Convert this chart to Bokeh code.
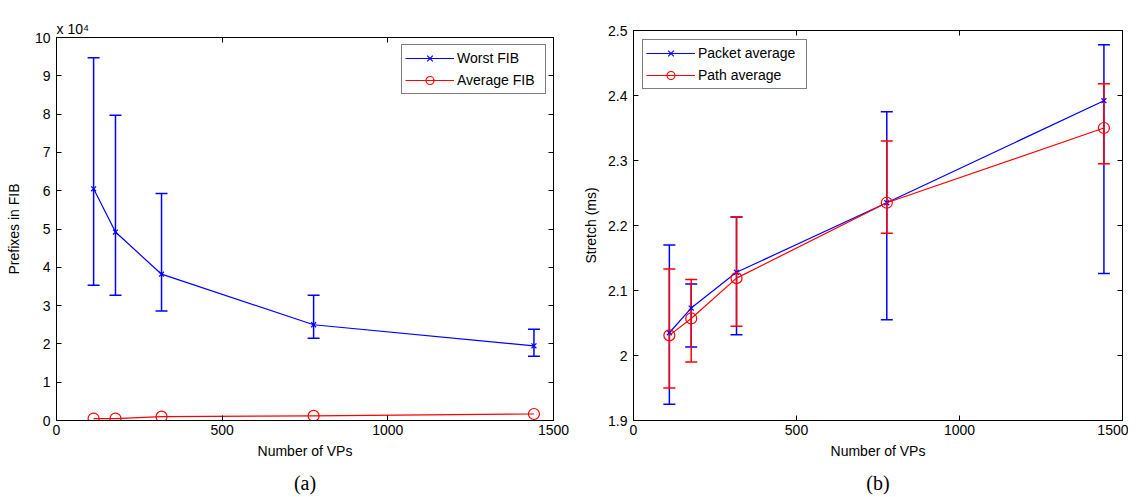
from bokeh.plotting import figure
from bokeh.layouts import row
from bokeh.models import (ColumnDataSource, Whisker, TeeHead, Legend, LegendItem,
                          Title, LinearAxis, FixedTicker, Range1d)
from bokeh.embed import file_html
from bokeh.resources import INLINE

# ---------------- data (a) ----------------
vps_a = [112, 178, 317, 776, 1441]
worst_fib = [6.05, 4.92, 3.82, 2.50, 1.95]
worst_fib_hi = [9.47, 7.97, 5.93, 3.27, 2.38]
worst_fib_lo = [3.53, 3.27, 2.86, 2.15, 1.68]
avg_fib = [0.05, 0.05, 0.10, 0.12, 0.17]

# ---------------- data (b) ----------------
vps_b = [110, 177, 316, 777, 1443]
packet_avg = [2.035, 2.073, 2.128, 2.235, 2.392]
packet_hi = [2.170, 2.110, 2.213, 2.375, 2.478]
packet_lo = [1.925, 2.013, 2.032, 2.055, 2.126]
path_avg = [2.031, 2.057, 2.119, 2.235, 2.350]
path_hi = [2.133, 2.117, 2.213, 2.330, 2.418]
path_lo = [1.950, 1.990, 2.045, 2.188, 2.295]

x_ticks = [0, 500, 1000, 1500]
y_ticks_a = [0, 1, 2, 3, 4, 5, 6, 7, 8, 9, 10]
y_ticks_b = [1.9, 2.0, 2.1, 2.2, 2.3, 2.4, 2.5]

BLUE = "#0000ff"
RED = "#ff0000"
FONT = "Liberation Sans"
FS = "14px"


def style(p, yticks, xlabel, ylabel, ystand, caption):
    p.frame_align = False
    p.xgrid.visible = False
    p.ygrid.visible = False
    p.outline_line_color = "black"
    p.outline_line_width = 1
    p.background_fill_color = "white"
    p.border_fill_color = "white"
    for ax in p.xaxis:
        ax.ticker = FixedTicker(ticks=x_ticks)
        ax.axis_label = xlabel
        ax.axis_label_standoff = 5
        ax.major_label_standoff = 4
    for ax in p.yaxis:
        ax.ticker = FixedTicker(ticks=yticks)
        ax.axis_label = ylabel
        ax.axis_label_standoff = ystand
        ax.major_label_standoff = 6
    for ax in list(p.xaxis) + list(p.yaxis):
        ax.major_tick_in = 5
        ax.major_tick_out = 0
        ax.minor_tick_line_color = None
        ax.axis_line_color = "black"
        ax.major_tick_line_color = "black"
        ax.major_label_text_color = "black"
        ax.major_label_text_font = FONT
        ax.major_label_text_font_size = FS
        ax.axis_label_text_font = FONT
        ax.axis_label_text_font_size = FS
        ax.axis_label_text_font_style = "normal"
        ax.axis_label_text_color = "black"
    # mirror axes (ticks only) on top and right
    top = LinearAxis(ticker=FixedTicker(ticks=x_ticks))
    right = LinearAxis(ticker=FixedTicker(ticks=yticks))
    for ax in (top, right):
        ax.major_tick_in = 5
        ax.major_tick_out = 0
        ax.minor_tick_line_color = None
        ax.axis_line_color = "black"
        ax.major_tick_line_color = "black"
        ax.major_label_text_alpha = 0
        ax.major_label_text_font_size = "1px"
        ax.major_label_standoff = 0
    p.add_layout(top, "above")
    p.add_layout(right, "right")
    # caption "(a)" / "(b)" as the label of a bare axis below the x axis
    cap = LinearAxis(ticker=FixedTicker(ticks=[]), axis_label=caption)
    cap.axis_line_color = None
    cap.major_tick_line_color = None
    cap.minor_tick_line_color = None
    cap.major_label_text_font_size = "1px"
    cap.major_label_standoff = 0
    cap.axis_label_standoff = 10
    cap.axis_label_text_font = "Liberation Serif"
    cap.axis_label_text_font_size = "20px"
    cap.axis_label_text_font_style = "normal"
    cap.axis_label_text_color = "black"
    p.add_layout(cap, "below")


def legend(p, items, loc, margin, label_width):
    lg = Legend(items=items, location=loc)
    lg.margin = margin
    lg.border_line_color = "black"
    lg.border_line_width = 1
    lg.background_fill_color = "white"
    lg.background_fill_alpha = 1
    lg.label_text_font = FONT
    lg.label_text_font_size = FS
    lg.label_text_color = "black"
    lg.glyph_width = 49
    lg.glyph_height = 20
    lg.label_height = 20
    lg.label_width = label_width
    lg.label_standoff = 3
    lg.padding = 3
    lg.spacing = 2
    p.add_layout(lg)


# ---------------- figure (a) ----------------
pa = figure(width=580, height=496, x_range=Range1d(0, 1500), y_range=Range1d(0, 10),
            output_backend="svg", toolbar_location=None,
            min_border_left=56, min_border_right=27, min_border_top=37, min_border_bottom=76)
pa.title = Title(text="x 10\u2074", align="left", text_font=FONT, text_font_size=FS,
                 text_font_style="normal", text_color="black", standoff=2)
style(pa, y_ticks_a, "Number of VPs", "Prefixes in FIB", 10, "(a)")

src_w = ColumnDataSource(dict(x=vps_a, y=worst_fib, hi=worst_fib_hi, lo=worst_fib_lo))
src_av = ColumnDataSource(dict(x=vps_a, y=avg_fib))

pa.add_layout(Whisker(source=src_w, base="x", upper="hi", lower="lo",
                      line_color=BLUE, line_width=1.5,
                      upper_head=TeeHead(size=12, line_color=BLUE, line_width=1.5),
                      lower_head=TeeHead(size=12, line_color=BLUE, line_width=1.5)))
lw = pa.line("x", "y", source=src_w, line_color=BLUE, line_width=1.2)
mw = pa.scatter("x", "y", source=src_w, marker="x", size=7, line_color=BLUE, line_width=1.2)
la = pa.line("x", "y", source=src_av, line_color=RED, line_width=1.2)
ma = pa.scatter("x", "y", source=src_av, marker="circle", size=11, fill_color=None,
                line_color=RED, line_width=1.2)
legend(pa, [LegendItem(label="Worst FIB", renderers=[lw, mw]),
            LegendItem(label="Average FIB", renderers=[la, ma])], "top_right", 7, 85)

# ---------------- figure (b) ----------------
pb = figure(width=548, height=496, x_range=Range1d(0, 1500), y_range=Range1d(1.9, 2.5),
            output_backend="svg", toolbar_location=None,
            min_border_left=50, min_border_right=6, min_border_top=30, min_border_bottom=76)
style(pb, y_ticks_b, "Number of VPs", "Stretch (ms)", 6, "(b)")
pb.yaxis[0].major_label_overrides = {2.0: "2"}

src_p = ColumnDataSource(dict(x=vps_b, y=packet_avg, hi=packet_hi, lo=packet_lo))
src_q = ColumnDataSource(dict(x=vps_b, y=path_avg, hi=path_hi, lo=path_lo))

pb.add_layout(Whisker(source=src_p, base="x", upper="hi", lower="lo",
                      line_color=BLUE, line_width=1.5,
                      upper_head=TeeHead(size=12, line_color=BLUE, line_width=1.5),
                      lower_head=TeeHead(size=12, line_color=BLUE, line_width=1.5)))
lp = pb.line("x", "y", source=src_p, line_color=BLUE, line_width=1.2)
mp = pb.scatter("x", "y", source=src_p, marker="x", size=7, line_color=BLUE, line_width=1.2)
pb.add_layout(Whisker(source=src_q, base="x", upper="hi", lower="lo",
                      line_color=RED, line_width=1.5,
                      upper_head=TeeHead(size=12, line_color=RED, line_width=1.5),
                      lower_head=TeeHead(size=12, line_color=RED, line_width=1.5)))
lq = pb.line("x", "y", source=src_q, line_color=RED, line_width=1.2)
mq = pb.scatter("x", "y", source=src_q, marker="circle", size=11, fill_color=None,
                line_color=RED, line_width=1.2)
legend(pb, [LegendItem(label="Packet average", renderers=[lp, mp]),
            LegendItem(label="Path average", renderers=[lq, mq])], "top_left", 9, 105)

layout = row(pa, pb)
open("out.html", "w").write(file_html(layout, INLINE))
